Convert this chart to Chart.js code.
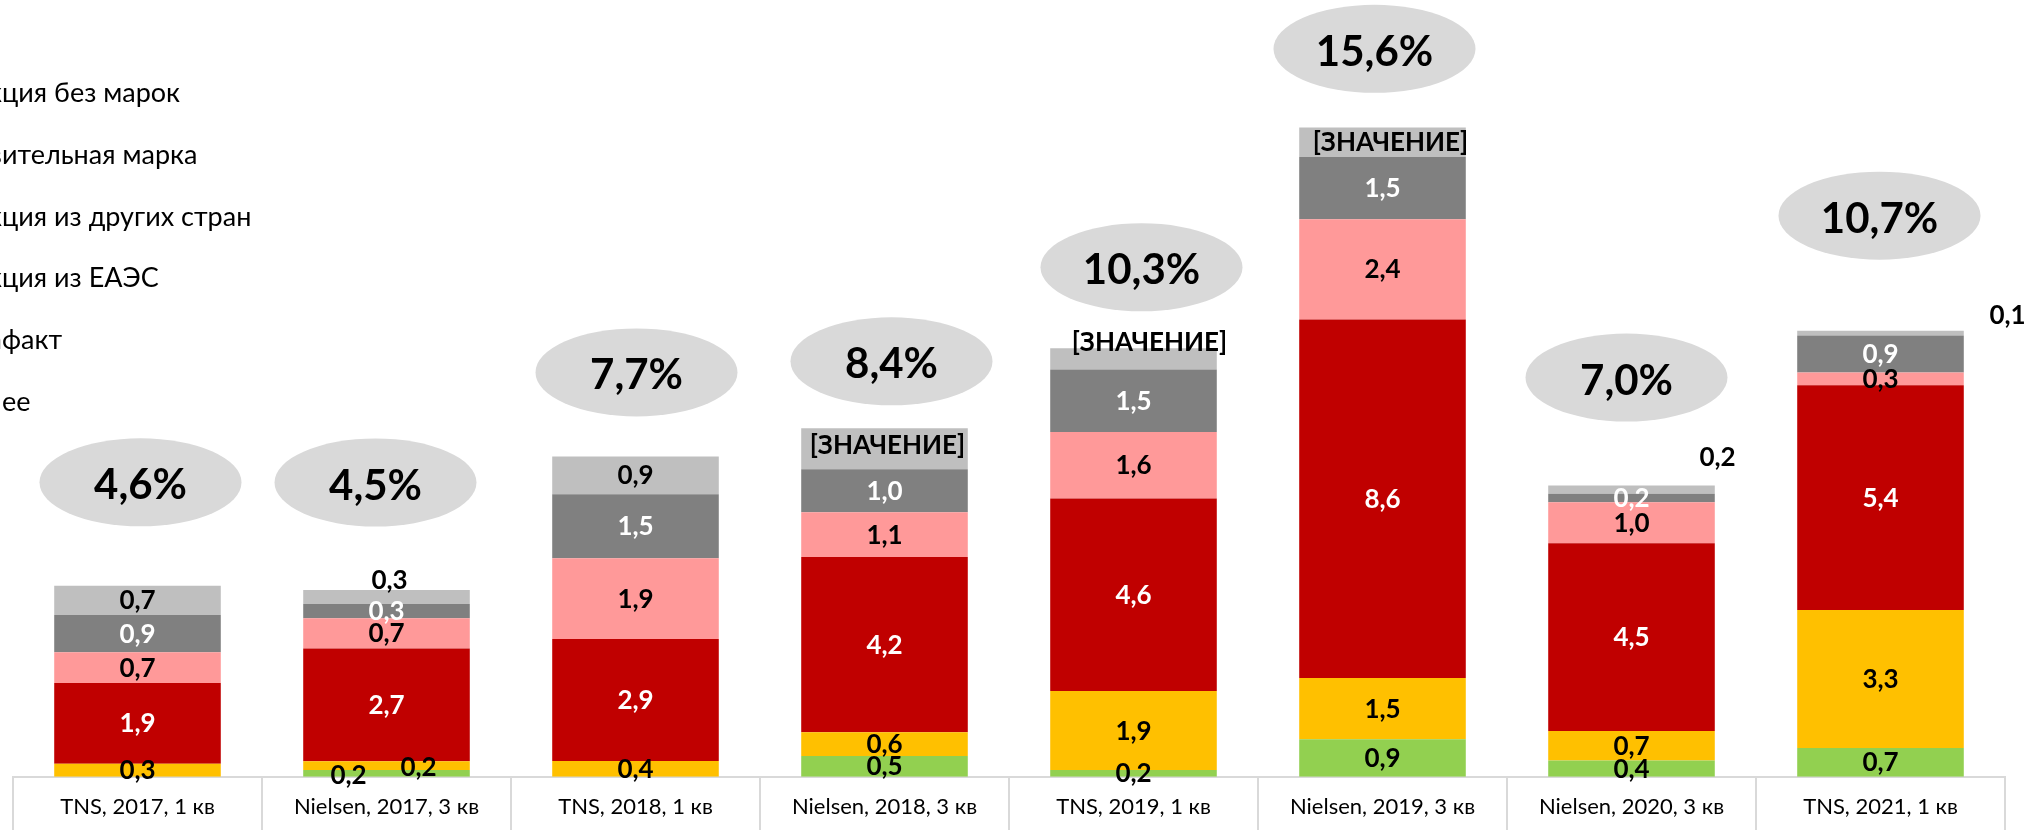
<!DOCTYPE html>
<html>
<head>
<meta charset="utf-8">
<script src="https://cdn.jsdelivr.net/npm/chart.js@4.4.1/dist/chart.umd.min.js"></script>
<style>
  html, body { margin: 0; padding: 0; background: #fff; }
  #wrap { width: 2044px; height: 830px; position: relative; }
</style>
</head>
<body>
<div id="wrap"><canvas id="myChart"></canvas></div>
<script>
const categories = ['TNS, 2017, 1 кв', 'Nielsen, 2017, 3 кв', 'TNS, 2018, 1 кв', 'Nielsen, 2018, 3 кв',
    'TNS, 2019, 1 кв', 'Nielsen, 2019, 3 кв', 'Nielsen, 2020, 3 кв', 'TNS, 2021, 1 кв']

// stacked from the bottom up
const other        = [0,    0.16, 0,    0.50, 0.16, 0.90, 0.39, 0.69]
const counterfeit  = [0.31, 0.21, 0.38, 0.57, 1.90, 1.47, 0.71, 3.32]
const fromEaeu     = [1.94, 2.71, 2.93, 4.21, 4.63, 8.62, 4.51, 5.40]
const fromAbroad   = [0.74, 0.73, 1.94, 1.08, 1.60, 2.41, 0.99, 0.31]
const invalidStamp = [0.90, 0.34, 1.54, 1.03, 1.50, 1.50, 0.20, 0.89]
const noStamp      = [0.70, 0.34, 0.91, 0.99, 0.51, 0.71, 0.20, 0.11]

const totals = [4.6, 4.5, 7.7, 8.4, 10.3, 15.6, 7.0, 10.7]
const noStampText = [null, null, null, '[ЗНАЧЕНИЕ]', '[ЗНАЧЕНИЕ]', '[ЗНАЧЕНИЕ]', null, null]

Chart.defaults.font.family = 'Lato'

const fmt = v => v.toFixed(1).replace('.', ',')

// hand-placed labels, px: [dx, dy]
const labelNudge = {
    '0:1': [-38, 2],
    '1:1': [32, 1],
    '5:1': [3, -17],
    '5:3': [3, -4],
    '5:4': [16, -17],
    '5:5': [8, 0],
    '5:6': [86, -33],
    '5:7': [127, -18]
}

// bubble offsets from the top of each total, px: [dx, lift]
const bubbleShift = [[3, 103], [-11, 107], [1, 84], [7, 66], [8, 81], [-8, 79], [-5, 108], [-1, 116]]

// characters of each legend label that fall off the left edge
const legendHidden = [6, 8, 6, 6, 6, 4]

const segmentLabels = {
    id: 'segmentLabels',
    afterDatasetsDraw(chart) {
        const ctx = chart.ctx
        ctx.save()
        ctx.font = 'bold 26px Lato'
        ctx.textAlign = 'center'
        ctx.textBaseline = 'alphabetic'
        chart.data.datasets.forEach((ds, i) => {
            chart.getDatasetMeta(i).data.forEach((bar, j) => {
                const v = ds.data[j]
                if (!v) return
                const text = (i === 5 && noStampText[j]) || fmt(v)
                const n = labelNudge[i + ':' + j] || [0, 0]
                ctx.fillStyle = ds.labelColor
                ctx.fillText(text, bar.x + n[0], (bar.y + bar.base) / 2 + n[1] + 9)
            })
        })
        ctx.restore()
    }
}

const bubbles = {
    id: 'bubbles',
    afterDatasetsDraw(chart) {
        const ctx = chart.ctx
        const yScale = chart.scales.y
        const meta = chart.getDatasetMeta(0)
        ctx.save()
        ctx.textAlign = 'center'
        totals.forEach((t, j) => {
            const cx = meta.data[j].x + bubbleShift[j][0]
            const cy = yScale.getPixelForValue(t) - bubbleShift[j][1]
            ctx.fillStyle = '#d9d9d9'
            ctx.beginPath()
            ctx.ellipse(cx, cy, 101, 44, 0, 0, Math.PI * 2)
            ctx.fill()
            ctx.fillStyle = '#000'
            ctx.font = 'bold 42px Lato'
            ctx.fillText(fmt(t) + '%', cx, cy + 17)
        })
        ctx.restore()
    }
}

const cutLegend = {
    id: 'cutLegend',
    afterDraw(chart) {
        const ctx = chart.ctx
        ctx.save()
        ctx.font = '27px Lato'
        ctx.fillStyle = '#000'
        chart.data.datasets.slice().reverse().forEach((ds, k) => {
            const hidden = ctx.measureText(ds.label.slice(0, legendHidden[k])).width
            ctx.fillText(ds.label, 2 - hidden, 102 + k * 61.8)
        })
        ctx.restore()
    }
}

const data = {
    labels: categories,
    datasets: [
        { label: 'Прочее', data: other, backgroundColor: '#92d050', labelColor: '#000' },
        { label: 'Контрафакт', data: counterfeit, backgroundColor: '#ffc000', labelColor: '#000' },
        { label: 'Продукция из ЕАЭС', data: fromEaeu, backgroundColor: '#c00000', labelColor: '#fff' },
        { label: 'Продукция из других стран', data: fromAbroad, backgroundColor: '#ff9999', labelColor: '#000' },
        { label: 'Недействительная марка', data: invalidStamp, backgroundColor: '#808080', labelColor: '#fff' },
        { label: 'Продукция без марок', data: noStamp, backgroundColor: '#bfbfbf', labelColor: '#000' }
    ]
}

const options = {
    responsive: true,
    maintainAspectRatio: false,
    animation: false,
    layout: { padding: { left: 13, right: 39, top: 28, bottom: 0 } },
    datasets: { bar: { categoryPercentage: 1, barPercentage: 0.669, borderWidth: 0 } },
    plugins: { legend: { display: false }, tooltip: { enabled: false } },
    scales: {
        x: {
            stacked: true,
            grid: { drawOnChartArea: false, drawTicks: true, tickLength: 54, color: '#d9d9d9', lineWidth: 2, offset: true },
            border: { display: true, color: '#d9d9d9', width: 2 },
            ticks: { color: '#000', font: { size: 22 }, padding: -37, maxRotation: 0, autoSkip: false },
            afterFit: (scale) => { scale.height = 53.3 }
        },
        y: { stacked: true, display: false, min: 0, max: 18 }
    }
}

const myChart = new Chart(document.getElementById('myChart'), {
    type: 'bar',
    data: data,
    options: options,
    plugins: [segmentLabels, bubbles, cutLegend]
})
</script>
</body>
</html>
